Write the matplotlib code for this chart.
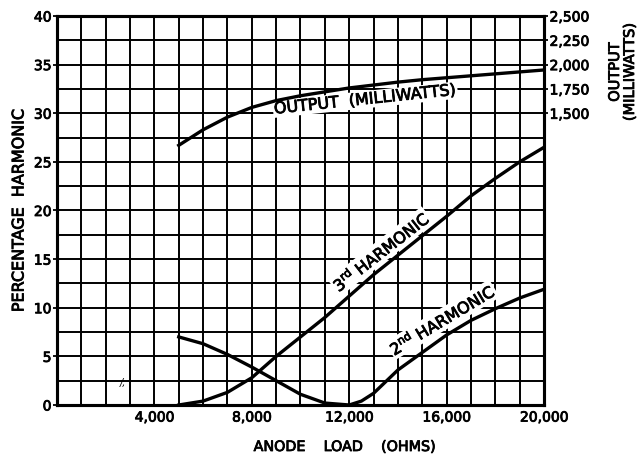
import matplotlib.pyplot as plt
import matplotlib.patheffects as pe
import numpy as np

# Data
load = [5000, 6000, 7000, 8000, 9000, 10000, 11000, 12000, 12500, 13000,
        13500, 14000, 15000, 16000, 17000, 18000, 19000, 20000]
third_harm = [0.0, 0.4, 1.3, 2.8, 5.0, 7.0, 9.0, 11.2, 12.3, 13.4,
              14.4, 15.4, 17.4, 19.4, 21.5, 23.3, 25.0, 26.5]
second_harm = [7.0, 6.3, 5.2, 3.9, 2.5, 1.1, 0.2, 0.0, 0.4, 1.2,
               2.4, 3.6, 5.4, 7.2, 8.7, 9.9, 11.0, 11.9]
output_mw = [1170, 1330, 1460, 1560, 1630, 1680, 1720, 1760, 1775, 1790,
             1805, 1820, 1845, 1865, 1885, 1905, 1925, 1945]

x_ticks = [4000, 8000, 12000, 16000, 20000]
y_ticks = [0, 5, 10, 15, 20, 25, 30, 35, 40]
mw_ticks = [1500, 1750, 2000, 2250, 2500]

plt.rcParams['font.family'] = ['DejaVu Sans']
plt.rcParams['mathtext.fontset'] = 'dejavusans'

# slightly heavier than regular, like the printed lettering
ink = [pe.withStroke(linewidth=0.6, foreground='black')]

fig = plt.figure(figsize=(6.38, 4.57), dpi=100)
ax = fig.add_axes([0.0893, 0.1138, 0.7634, 0.8512])

# Grid: every 1000 ohms and every 2.5 percent
for gx in np.arange(1000, 20000, 1000):
    ax.axvline(gx, color='black', lw=1.4, zorder=1)
for gy in np.arange(2.5, 40, 2.5):
    ax.axhline(gy, color='black', lw=1.4, zorder=1)

ax.plot(load, third_harm, color='black', lw=2.4, zorder=3)
ax.plot(load, second_harm, color='black', lw=2.4, zorder=3)

ax.set_xlim(0, 20000)
ax.set_ylim(0, 40)
ax.set_xticks(x_ticks)
ax.set_xticklabels(['{:,}'.format(v) for v in x_ticks])
ax.set_yticks(y_ticks)
ax.tick_params(axis='x', length=0, pad=4, labelsize=10)
ax.tick_params(axis='y', length=3, width=1.3, pad=1, labelsize=10)
for s in ax.spines.values():
    s.set_linewidth(2.2)

ax2 = ax.twinx()
ax2.set_ylim(-1500, 2500)
ax2.plot(load, output_mw, color='black', lw=2.4, zorder=3)
ax2.set_yticks(mw_ticks)
ax2.set_yticklabels(['{:,}'.format(v) for v in mw_ticks])
ax2.tick_params(axis='y', length=3, width=1.3, pad=1, labelsize=10)
for s in ax2.spines.values():
    s.set_linewidth(2.2)

for lbl in ax.get_xticklabels() + ax.get_yticklabels() + ax2.get_yticklabels():
    lbl.set_path_effects(ink)

box = dict(facecolor='white', edgecolor='none', pad=0.8)


def curve_label(axis, text, x, y, angle, gap):
    # offset the label perpendicular to the curve by gap points
    t = np.radians(angle)
    off = (-np.sin(t) * gap, np.cos(t) * gap)
    axis.annotate(text, xy=(x, y), xytext=off, textcoords='offset points',
                  rotation=angle, rotation_mode='anchor', ha='center',
                  va='bottom' if gap > 0 else 'top', fontsize=11.5,
                  zorder=2, bbox=box, path_effects=ink)


curve_label(ax, r'3$^{\rm rd}$ HARMONIC', 13650, 14.7, 38, 3)
curve_label(ax, r'2$^{\rm nd}$ HARMONIC', 16150, 7.4, 31, 4.5)
curve_label(ax2, 'OUTPUT  (MILLIWATTS)', 12600, 1780, 6, -4.5)
ax.text(2700, 2.3, '/,', fontsize=7, style='italic', ha='center', va='center')

# Axis titles
fig.text(19 / 638, 1 - 210 / 457, 'PERCENTAGE  HARMONIC', rotation=90,
         ha='center', va='center', fontsize=11.5, path_effects=ink)
fig.text(622 / 638, 1 - 72 / 457, 'OUTPUT\n(MILLIWATTS)', rotation=90,
         ha='center', va='center', fontsize=10.5, linespacing=1.0,
         path_effects=ink)
fig.text(344 / 638, 1 - 447 / 457, 'ANODE    LOAD    (OHMS)',
         ha='center', va='center', fontsize=10.3, path_effects=ink)

fig.savefig('out.png', dpi=100)
